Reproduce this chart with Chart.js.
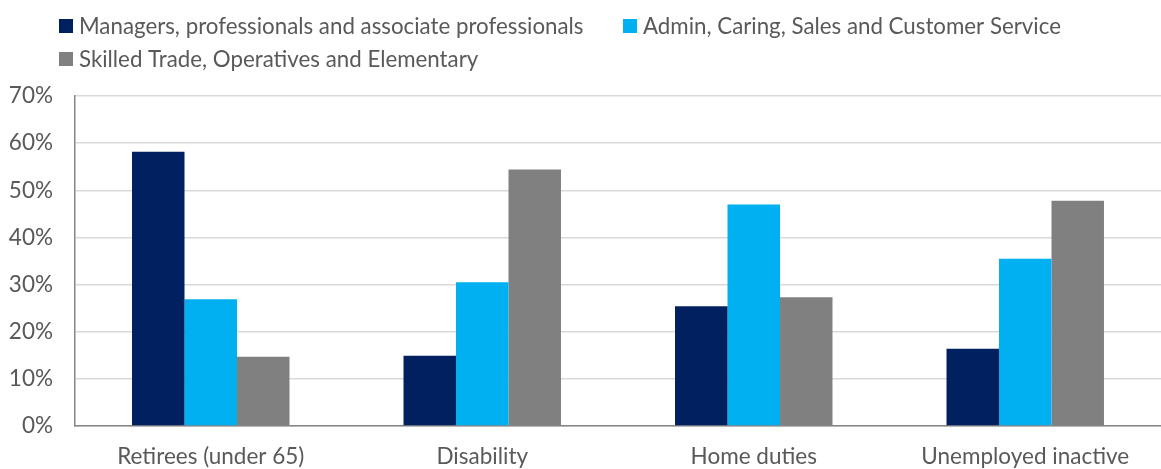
<!DOCTYPE html>
<html>
<head>
<meta charset="utf-8">
<script src="https://cdn.jsdelivr.net/npm/chart.js@4/dist/chart.umd.min.js"></script>
<style>
html,body{margin:0;padding:0;background:#fff;}
#wrap{width:1161px;height:469px;}
</style>
</head>
<body>
<div id="wrap"><canvas id="c" width="1161" height="469"></canvas></div>
<script>
const categories = ["Retirees (under 65)", "Disability", "Home duties", "Unemployed inactive"];
const seriesNames = ["Managers, professionals and associate professionals", "Admin, Caring, Sales and Customer Service", "Skilled Trade, Operatives and Elementary"];
const managers = [58.2, 14.9, 25.4, 16.4];
const adminCaring = [26.9, 30.5, 47.0, 35.5];
const skilledTrade = [14.7, 54.4, 27.3, 47.8];
const yTicks = [0, 10, 20, 30, 40, 50, 60, 70];
const colors = ["#002060", "#00B0F0", "#808080"];

const FONT = "Lato, 'Open Sans', sans-serif";
const TEXT = "#595959";

const legendPlugin = {
  id: 'customLegend',
  afterDraw(chart) {
    const ctx = chart.ctx;
    const items = [
      {i:0, bx:59, by:19, tx:79},
      {i:1, bx:623, by:19, tx:643},
      {i:2, bx:59, by:52, tx:79}
    ];
    ctx.save();
    ctx.font = "22.3px " + FONT;
    ctx.textBaseline = 'middle';
    ctx.textAlign = 'left';
    items.forEach(it => {
      const ds = chart.data.datasets[it.i];
      ctx.fillStyle = ds.backgroundColor;
      ctx.fillRect(it.bx, it.by, 14, 14);
      ctx.fillStyle = TEXT;
      ctx.fillText(ds.label, it.tx, it.by + 7.5);
    });
    ctx.restore();
  }
};

new Chart(document.getElementById('c'), {
  type: 'bar',
  data: {
    labels: categories,
    datasets: [
      {label: seriesNames[0], data: managers, backgroundColor: colors[0]},
      {label: seriesNames[1], data: adminCaring, backgroundColor: colors[1]},
      {label: seriesNames[2], data: skilledTrade, backgroundColor: colors[2]}
    ]
  },
  options: {
    responsive: false,
    animation: false,
    layout: {padding: {top: 96, right: -3, left: 0, bottom: 0}},
    plugins: {legend: {display: false}, tooltip: {enabled: false}},
    datasets: {bar: {barPercentage: 1, categoryPercentage: 0.58}},
    scales: {
      x: {
        grid: {display: false, drawTicks: false},
        border: {color: '#868686', width: 1.5},
        ticks: {color: TEXT, font: {family: FONT, size: 22.5}, padding: 17},
        afterFit(s) { s.height = 43; }
      },
      y: {
        min: 0, max: 70,
        afterBuildTicks(s) { s.ticks = yTicks.map(v => ({value: v})); },
        grid: {color: '#d9d9d9', lineWidth: 1.5, drawTicks: false},
        border: {color: '#868686', width: 1.5},
        ticks: {color: TEXT, font: {family: FONT, size: 22.5}, padding: 22, callback: v => v + '%'},
        afterFit(s) { s.width = 75; }
      }
    }
  },
  plugins: [legendPlugin]
});
</script>
</body>
</html>
